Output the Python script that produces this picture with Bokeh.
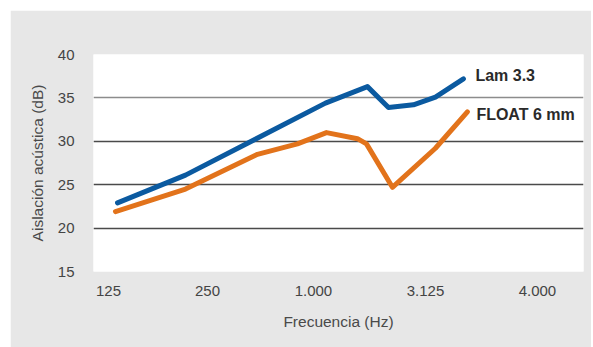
from bokeh.plotting import figure
from bokeh.models import Range1d, FixedTicker, Grid
from bokeh.core.properties import value
from bokeh.embed import file_html
from bokeh.resources import INLINE

# ---- data ----
x_tick_pos = [0.0, 0.923, 1.911, 2.956, 4.0]
x_tick_labels = ["125", "250", "1.000", "3.125", "4.000"]
y_ticks = [15, 20, 25, 30, 35, 40]

series_names = ["Lam 3.3", "FLOAT 6 mm"]

lam_x = [0.084, 0.718, 2.023, 2.415, 2.611, 2.844, 3.049, 3.310]
lam_y = [22.9, 26.1, 34.4, 36.3, 33.9, 34.2, 35.1, 37.2]

float_x = [0.065, 0.718, 1.389, 1.762, 2.033, 2.322, 2.406, 2.648, 3.049, 3.347]
float_y = [21.9, 24.5, 28.5, 29.7, 31.0, 30.3, 29.7, 24.7, 29.2, 33.4]

# ---- styles ----
FONT = "Liberation Sans"
BLUE = "#0b5aa0"
ORANGE = "#e2731b"
GRAY_BG = "#e7e7e7"

p = figure(width=581, height=337, output_backend="svg", toolbar_location=None,
           x_range=Range1d(-0.14, 4.43), y_range=Range1d(15, 40))
p.margin = (10, 2, 0, 10)
p.min_border_left = 83
p.min_border_right = 8
p.min_border_top = 44
p.min_border_bottom = 76
p.border_fill_color = GRAY_BG
p.background_fill_color = "white"
p.outline_line_color = None

# axes
for ax in (p.xaxis[0], p.yaxis[0]):
    ax.axis_line_color = None
    ax.major_tick_line_color = None
    ax.minor_tick_line_color = None
    ax.major_label_text_font = FONT
    ax.major_label_text_font_size = "15px"
    ax.major_label_text_color = "#444444"
    ax.axis_label_text_font = FONT
    ax.axis_label_text_font_size = "15.5px"
    ax.axis_label_text_font_style = "normal"
    ax.axis_label_text_color = "#4a4a4a"

p.xaxis.ticker = FixedTicker(ticks=x_tick_pos)
p.xaxis.major_label_overrides = {t: l for t, l in zip(x_tick_pos, x_tick_labels)}
p.xaxis.axis_label = "Frecuencia (Hz)"
p.xaxis.major_label_standoff = 8
p.xaxis.axis_label_standoff = 14

p.yaxis.ticker = FixedTicker(ticks=y_ticks)
p.yaxis.axis_label = "Aislación acústica (dB)"
p.yaxis.major_label_standoff = 13
p.yaxis.axis_label_standoff = 9

# grids
p.xgrid.grid_line_color = None
p.ygrid.ticker = FixedTicker(ticks=[20, 25, 30])
p.ygrid.grid_line_color = "#4a4a4a"
p.ygrid.grid_line_width = 1.3
g35 = Grid(dimension=1, ticker=FixedTicker(ticks=[35]),
           grid_line_color="#8c8c8c", grid_line_width=1.5)
p.add_layout(g35, "center")

# lines
p.line(lam_x, lam_y, line_color=BLUE, line_width=5, line_cap="round", line_join="round")
p.line(float_x, float_y, line_color=ORANGE, line_width=5, line_cap="round", line_join="round")

# end labels
p.text(x=[lam_x[-1]], y=[lam_y[-1]], text=[series_names[0]], x_offset=12, y_offset=-3,
       text_font=value(FONT), text_font_style="bold", text_font_size="16px",
       text_color="#2a2a2a", text_baseline="middle", text_align="left")
p.text(x=[float_x[-1]], y=[float_y[-1]], text=[series_names[1]], x_offset=9, y_offset=3,
       text_font=value(FONT), text_font_style="bold", text_font_size="16px",
       text_color="#2a2a2a", text_baseline="middle", text_align="left")

open("out.html", "w").write(file_html(p, INLINE))
